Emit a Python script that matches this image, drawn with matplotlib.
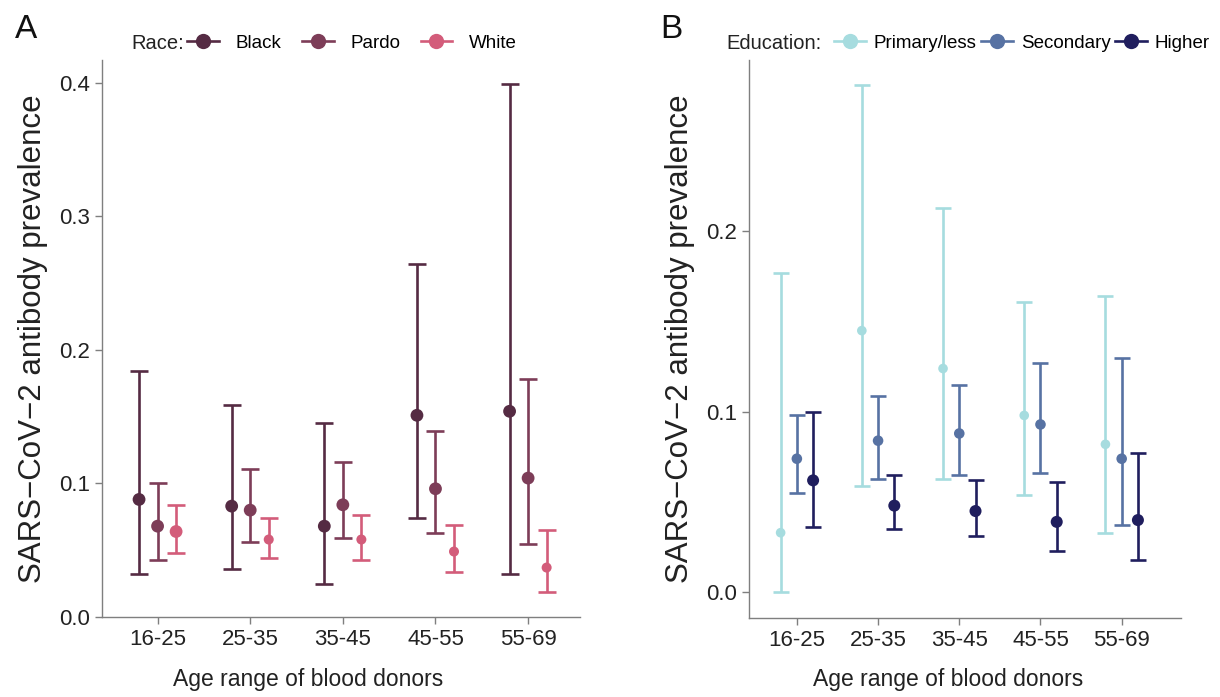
import numpy as np
import matplotlib
matplotlib.use('Agg')
import matplotlib.pyplot as plt
from matplotlib.lines import Line2D

plt.rcParams['font.family'] = ['Liberation Sans', 'DejaVu Sans']

# age groups shared by both panels
ages = ['16-25', '25-35', '35-45', '45-55', '55-69']

# panel A: prevalence by race (estimate, lower, upper)
race_names = ['Black', 'Pardo', 'White']
black_est = [0.088, 0.083, 0.068, 0.151, 0.154]
black_lo = [0.032, 0.036, 0.025, 0.074, 0.032]
black_hi = [0.184, 0.159, 0.145, 0.264, 0.399]
pardo_est = [0.068, 0.080, 0.084, 0.096, 0.104]
pardo_lo = [0.043, 0.056, 0.059, 0.063, 0.055]
pardo_hi = [0.100, 0.111, 0.116, 0.139, 0.178]
white_est = [0.064, 0.058, 0.058, 0.049, 0.037]
white_lo = [0.048, 0.044, 0.043, 0.034, 0.019]
white_hi = [0.084, 0.074, 0.076, 0.069, 0.065]

# panel B: prevalence by education
edu_names = ['Primary/less', 'Secondary', 'Higher']
prim_est = [0.033, 0.145, 0.124, 0.098, 0.082]
prim_lo = [0.000, 0.059, 0.063, 0.054, 0.033]
prim_hi = [0.177, 0.281, 0.213, 0.161, 0.164]
sec_est = [0.074, 0.084, 0.088, 0.093, 0.074]
sec_lo = [0.055, 0.063, 0.065, 0.066, 0.037]
sec_hi = [0.098, 0.109, 0.115, 0.127, 0.130]
high_est = [0.062, 0.048, 0.045, 0.039, 0.040]
high_lo = [0.036, 0.035, 0.031, 0.023, 0.018]
high_hi = [0.100, 0.065, 0.062, 0.061, 0.077]

race_cols = ['#552b43', '#7d3d58', '#d35c7a']
edu_cols = ['#a6dcdf', '#5772a3', '#201e5e']
# marker areas (points^2)
race_sizes = [[85] * 5, [85] * 5, [85, 52, 52, 52, 52]]
edu_sizes = [[48] * 5, [58] * 5, [75] * 5]

axis_grey = '#7f7f7f'
txt_col = '#222222'

fig = plt.figure(figsize=(12.2, 6.97), dpi=100)
axA = fig.add_axes([0.0836, 0.1148, 0.3918, 0.7991])
axB = fig.add_axes([0.6139, 0.1133, 0.3541, 0.8006])


def draw_panel(ax, series, cols, sizes, capsize):
    x = np.arange(1, len(ages) + 1)
    offsets = [-0.2, 0.0, 0.2]
    for (est, lo, hi), col, sz, off in zip(series, cols, sizes, offsets):
        est = np.array(est)
        yerr = [est - np.array(lo), np.array(hi) - est]
        ax.errorbar(x + off, est, yerr=yerr, fmt='none', ecolor=col,
                    elinewidth=1.9, capsize=capsize, capthick=1.9, zorder=2)
        ax.scatter(x + off, est, s=sz, color=col, zorder=3, linewidths=0)
    ax.set_xticks(x)
    ax.set_xticklabels(ages)
    for s in ['top', 'right']:
        ax.spines[s].set_visible(False)
    for s in ['left', 'bottom']:
        ax.spines[s].set_color(axis_grey)
        ax.spines[s].set_linewidth(1.0)
    ax.tick_params(colors=axis_grey, labelcolor=txt_col, labelsize=16,
                   length=5, width=1.0)
    ax.set_xlabel('Age range of blood donors', fontsize=16.5, color=txt_col)
    ax.set_ylabel('SARS\u2212CoV\u22122 antibody prevalence', fontsize=22.5,
                  color=txt_col, labelpad=8)


draw_panel(axA,
           [(black_est, black_lo, black_hi),
            (pardo_est, pardo_lo, pardo_hi),
            (white_est, white_lo, white_hi)],
           race_cols, race_sizes, 6.6)
axA.set_xlim(0.4, 5.56)
axA.set_ylim(0, 0.417)
axA.set_yticks([0.0, 0.1, 0.2, 0.3, 0.4])
axA.set_yticklabels(['0.0', '0.1', '0.2', '0.3', '0.4'])
axA.xaxis.set_label_coords(0.431, -0.0916)

draw_panel(axB,
           [(prim_est, prim_lo, prim_hi),
            (sec_est, sec_lo, sec_hi),
            (high_est, high_lo, high_hi)],
           edu_cols, edu_sizes, 5.8)
axB.set_xlim(0.41, 5.73)
axB.set_ylim(-0.0143, 0.295)
axB.set_yticks([0.0, 0.1, 0.2])
axB.set_yticklabels(['0.0', '0.1', '0.2'])
axB.xaxis.set_label_coords(0.4606, -0.0896)

# panel letters
fig.text(0.012, 0.945, 'A', fontsize=24, color='#111111')
fig.text(0.541, 0.945, 'B', fontsize=24, color='#111111')


def legend_row(title, names, cols, tx, lx, pad, colsp):
    fig.text(tx, 0.938, title, fontsize=14.5, color=txt_col, va='center')
    handles = [Line2D([0], [0], color=c, lw=1.9, marker='o', markersize=11,
                      markeredgewidth=0) for c in cols]
    fig.legend(handles, names, loc='center left', bbox_to_anchor=(lx, 0.938),
               ncol=3, frameon=False, fontsize=13.5, handlelength=1.7,
               handletextpad=pad, columnspacing=colsp, borderaxespad=0,
               borderpad=0)


legend_row('Race:', race_names, race_cols, 0.108, 0.1533, 0.9, 1.07)
legend_row('Education:', edu_names, edu_cols, 0.595, 0.6836, 0.43, 0.22)

fig.savefig('out.png', dpi=100)
